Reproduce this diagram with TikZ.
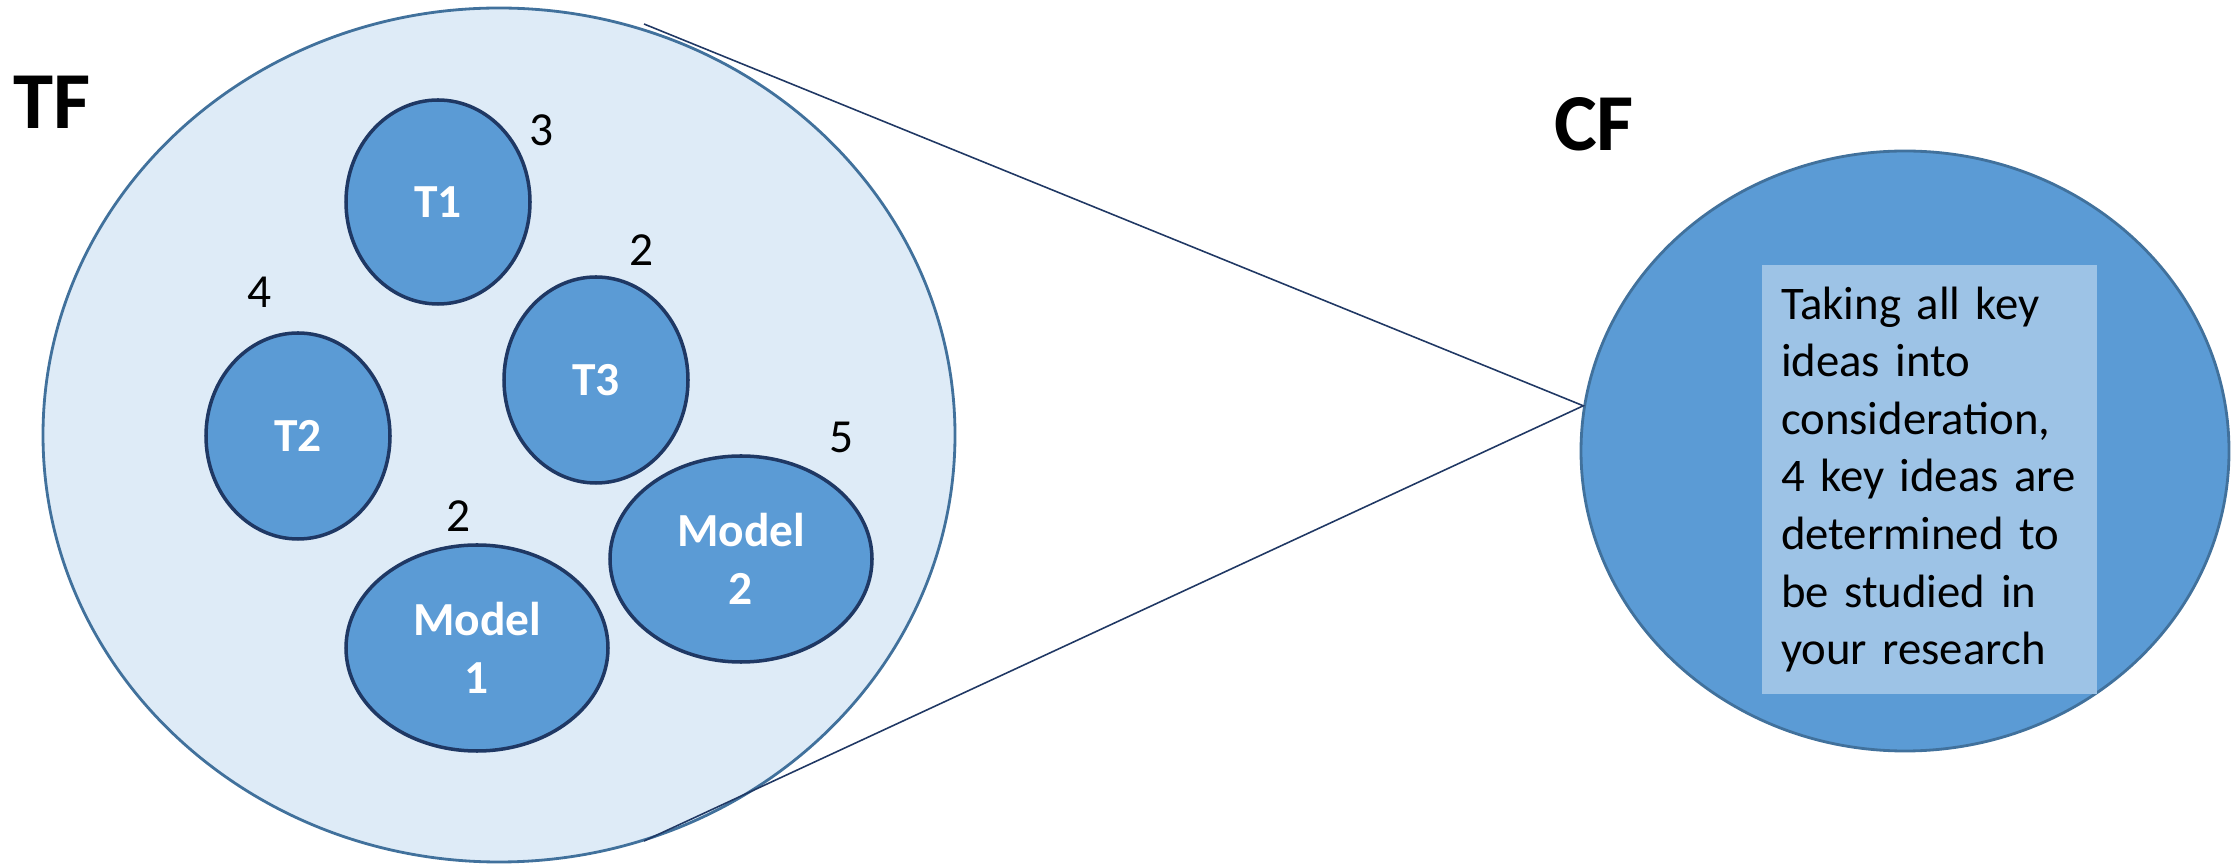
\documentclass[tikz,border=0pt]{standalone}
\usepackage{fontspec}
\setmainfont{Carlito}
\usetikzlibrary{shapes.geometric}
\definecolor{tffill}{HTML}{DEEBF7}
\definecolor{tfdraw}{HTML}{41719C}
\definecolor{midblue}{HTML}{5B9BD5}
\definecolor{navy}{HTML}{1F3864}
\definecolor{boxfill}{HTML}{9DC3E6}
\definecolor{linecol}{HTML}{203864}
\tikzset{
  bigell/.style={ellipse, draw=tfdraw, line width=0.8pt, inner sep=0pt},
  smallell/.style={ellipse, draw=navy, fill=midblue, line width=1pt, inner sep=0pt,
    text=white, font=\fontsize{13.5}{16.4}\selectfont\bfseries, align=center},
  numlbl/.style={font=\fontsize{13.5}{16.4}\selectfont, inner sep=0pt},
  title/.style={font=\fontsize{23}{27}\selectfont\bfseries, inner sep=0pt},
  zoomline/.style={draw=linecol, line width=0.45pt}
}
\begin{document}
\begin{tikzpicture}
\useasboundingbox (0,0) rectangle (22.34,8.63);
% TF big ellipse
\node[bigell, fill=tffill, minimum width=9.12cm, minimum height=8.54cm] (TF) at (4.99,4.28) {};
% CF ellipse
\node[bigell, fill=midblue, minimum width=6.48cm, minimum height=6.00cm] (CF) at (19.05,4.12) {};
% zoom lines
\coordinate (ztop) at (6.44,8.39);
\coordinate (zbot) at (6.44,0.22);
\draw[zoomline] (ztop) -- (CF.172) -- (zbot);
% small ellipses
\node[smallell, minimum width=1.84cm, minimum height=2.04cm] (T1) at (4.38,6.61) {T1};
\node[smallell, minimum width=1.84cm, minimum height=2.06cm] (T3) at (5.96,4.83) {T3};
\node[smallell, minimum width=1.84cm, minimum height=2.06cm] (T2) at (2.98,4.27) {T2};
\node[smallell, minimum width=2.62cm, minimum height=2.06cm] (M1) at (4.77,2.15) {Model\\1};
\node[smallell, minimum width=2.62cm, minimum height=2.06cm] (M2) at (7.41,3.04) {Model\\2};
% numbers
\node[numlbl] (n1) at (5.42,7.33) {3};
\node[numlbl] (n3) at (6.42,6.13) {2};
\node[numlbl] (n2) at (2.60,5.71) {4};
\node[numlbl] (nm1) at (4.59,3.47) {2};
\node[numlbl] (nm2) at (8.42,4.26) {5};
% titles
\node[title] (tftitle) at (0.52,7.61) {TF};
\node[title] (cftitle) at (15.94,7.39) {CF};
% text box
\node[fill=boxfill, minimum width=3.35cm, minimum height=4.29cm, inner xsep=0.15cm,
  text width=3.05cm, align=left, font=\fontsize{13.3}{16.4}\selectfont] (box) at (19.295,3.835)
  {\hspace*{0.04cm}Taking all key\\\hspace*{0.04cm}ideas into\\\hspace*{0.04cm}consideration,\\\hspace*{0.04cm}4 key ideas are\\\hspace*{0.04cm}determined to\\\hspace*{0.04cm}be studied in\\\hspace*{0.04cm}your research};
\end{tikzpicture}
\end{document}
